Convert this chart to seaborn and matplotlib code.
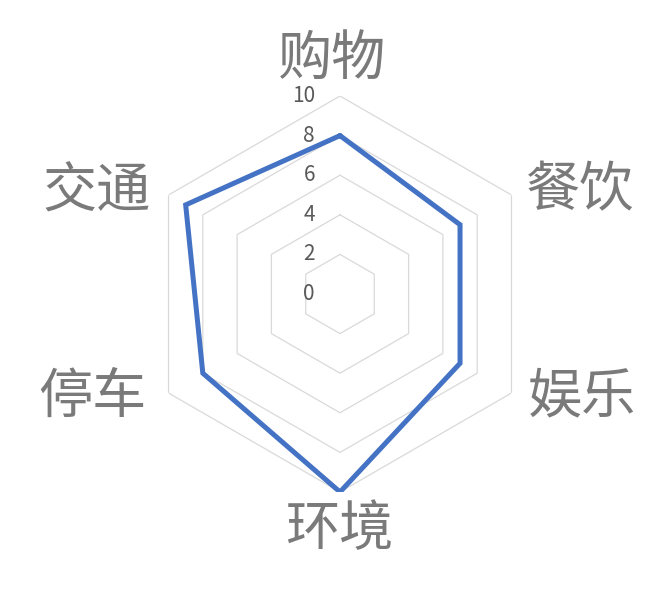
import numpy as np
import pandas as pd
import seaborn as sns
from matplotlib import pyplot as plt

categories = ['购物', '餐饮', '娱乐', '环境', '停车', '交通']
scores = [8, 7, 7, 10, 8, 9]
r_ticks = [0, 2, 4, 6, 8, 10]

sns.set_theme(style='white')
plt.rcParams['font.family'] = ['Noto Sans CJK SC', 'DejaVu Sans']

n = len(categories)
angles = np.linspace(0, 2 * np.pi, n, endpoint=False)

# close the polygon
df = pd.DataFrame({
    'theta': np.append(angles, angles[0]),
    'score': scores + scores[:1],
})

fig = plt.figure(figsize=(6.68, 5.97), dpi=100)
ax = fig.add_axes([142 / 668, 105 / 597, 396 / 668, 396 / 597], projection='polar')
ax.set_theta_offset(np.pi / 2)
ax.set_theta_direction(-1)

# hexagon grid instead of circles
ring_theta = np.append(angles, angles[0])
for r in r_ticks[1:]:
    ax.plot(ring_theta, [r] * (n + 1), color='#d9d9d9', lw=0.9, zorder=1)

sns.lineplot(data=df, x='theta', y='score', sort=False, estimator=None,
             ax=ax, color='#4472c4', lw=3.6, zorder=3)
ax.lines[-1].set_solid_joinstyle('miter')

ax.set_ylim(0, 10)
ax.set_xticks([])
ax.set_yticks([])
ax.grid(False)
ax.spines['polar'].set_visible(False)
ax.set_xlabel('')
ax.set_ylabel('')

for r in r_ticks:
    ax.annotate(str(r), xy=(0, r), xytext=(-18, 0), textcoords='offset points',
                ha='right', va='center', fontsize=15, color='#595959')

# category label centres in pixels
label_pos = [(332, 59), (580, 191), (582, 397), (339, 530), (92, 397), (97, 192)]
for name, (px, py) in zip(categories, label_pos):
    fig.text(px / 668, 1 - py / 597, name, ha='center', va='center',
             fontsize=39, color='#7a7a7a', fontweight='light')

fig.savefig('out.png', dpi=100)
